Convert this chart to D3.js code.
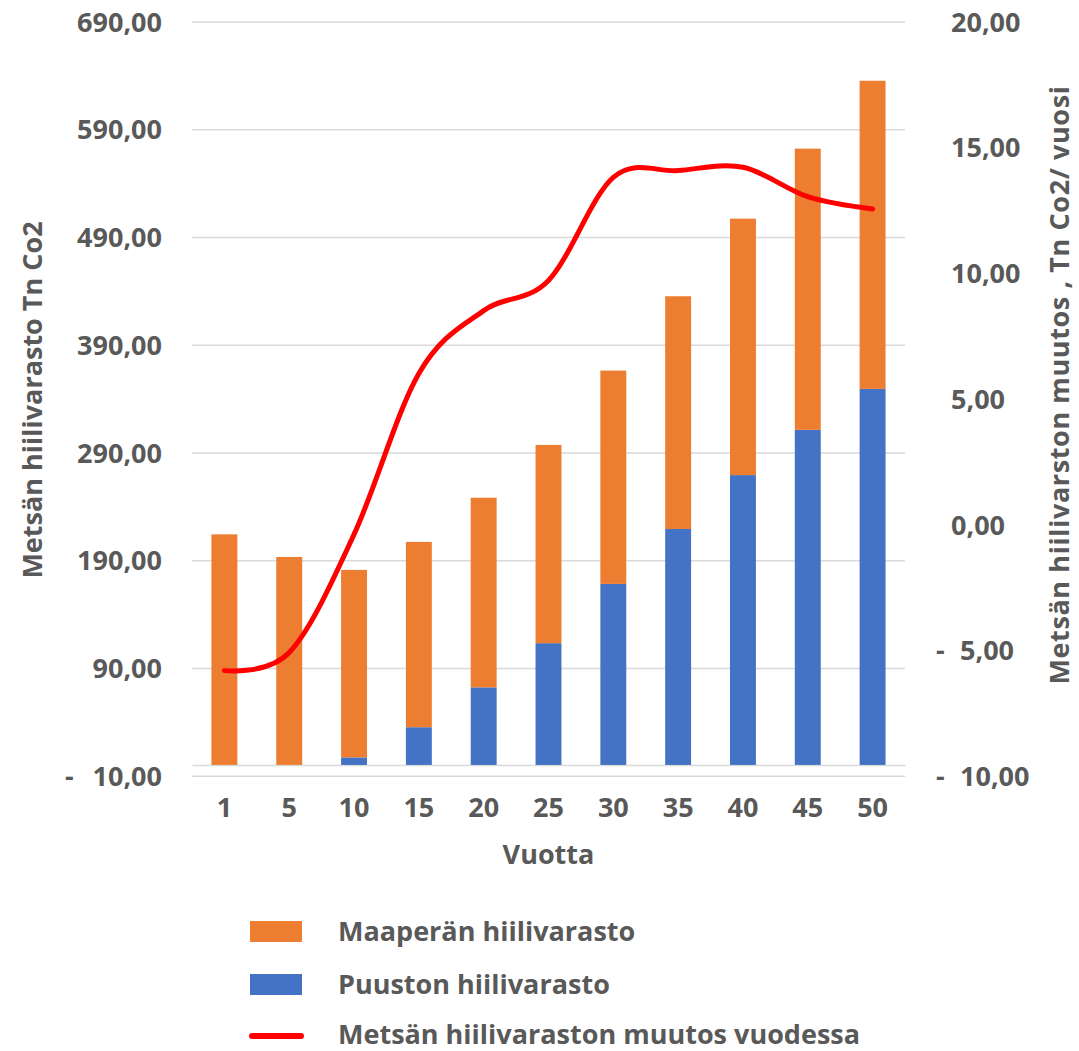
<!DOCTYPE html>
<html><head><meta charset="utf-8">
<script src="https://cdn.jsdelivr.net/npm/d3@7"></script>
<style>
body{margin:0;background:#fff;}
text{font-family:"Open Sans", Lato, sans-serif;font-weight:700;fill:#595959;}
</style></head><body>
<svg id="c" width="1079" height="1051"></svg>
<script>
const categories = ["1","5","10","15","20","25","30","35","40","45","50"];
const puusto = [0,0,7,35,72,113,168,219,269,311,349];
const maapera = [214,193,174,172,176,184,198,216,238,261,286];
const muutos = [-5.82,-5.1,-0.4,6.0,8.5,9.7,13.8,14.07,14.2,13.03,12.54];
const leftTicks = [-10,90,190,290,390,490,590,690];
const rightTicks = [-10,-5,0,5,10,15,20];
const seriesNames = ["Maaperän hiilivarasto","Puuston hiilivarasto","Metsän hiilivaraston muutos vuodessa"];
const xTitle = "Vuotta";
const yLeftTitle = "Metsän hiilivarasto Tn Co2";
const yRightTitle = "Metsän hiilivarston muutos , Tn Co2/ vuosi";

const C = {orange:"#ED7D31", blue:"#4472C4", red:"#FF0000", grid:"#D9D9D9"};
const FS = 27;
const L = 192, R = 905, T = 21.5, B = 775.7;

const svg = d3.select("#c");
const loc = d3.formatLocale({decimal:",", thousands:" ", grouping:[3], currency:["",""]});
const fmt = loc.format(",.2f");

const x = d3.scaleBand().domain(categories).range([L,R]).paddingInner(0.6).paddingOuter(0.3);
const yL = d3.scaleLinear().domain([-10,690]).range([B,T]);
const yR = d3.scaleLinear().domain([-10,20]).range([B,T]);

// gridlines
const grid = svg.append("g").attr("transform",`translate(${L},0)`)
  .call(d3.axisLeft(yL).tickValues(leftTicks).tickSize(-(R-L)).tickFormat(""));
grid.select(".domain").remove();
grid.selectAll("line").attr("stroke",C.grid).attr("stroke-width",1.5);

// zero line (category axis)
const xa = svg.append("g").attr("transform",`translate(0,${yL(0)})`)
  .call(d3.axisBottom(x).tickSize(0).tickPadding(0));
xa.select(".domain").attr("stroke",C.grid).attr("stroke-width",1.5);
xa.selectAll("text").attr("y", 817 - yL(0)).attr("dy",0).style("font-size",FS+"px").attr("fill","#595959");

// bars
const rows = categories.map((c,i)=>({cat:c, puusto:puusto[i], maapera:maapera[i]}));
const stack = d3.stack().keys(["puusto","maapera"])(rows);
const colors = {puusto:C.blue, maapera:C.orange};
svg.append("g").selectAll("g").data(stack).join("g")
  .attr("fill",d=>colors[d.key])
  .selectAll("rect").data(d=>d).join("rect")
  .attr("x",d=>x(d.data.cat)).attr("width",x.bandwidth())
  .attr("y",d=>yL(d[1])).attr("height",d=>Math.max(0,yL(d[0])-yL(d[1])));

// line
const line = d3.line().x((d,i)=>x(categories[i])+x.bandwidth()/2).y(d=>yR(d)).curve(d3.curveCardinal.tension(0));
svg.append("path").datum(muutos).attr("d",line).attr("fill","none")
  .attr("stroke",C.red).attr("stroke-width",5).attr("stroke-linecap","round").attr("stroke-linejoin","round");

// left axis labels
const la = svg.append("g").attr("transform",`translate(${L},0)`)
  .call(d3.axisLeft(yL).tickValues(leftTicks).tickSize(0).tickPadding(30).tickFormat(d=>fmt(Math.abs(d))));
la.select(".domain").remove();
la.selectAll("text").style("font-size",FS+"px").attr("fill","#595959").attr("dy","0.36em");
la.selectAll(".tick").filter(d=>d<0).append("text")
  .attr("x",65-L).attr("dy","0.36em").attr("text-anchor","start").style("font-size",FS+"px").attr("fill","#595959").text("-");

// right axis labels
const ra = svg.append("g").attr("transform",`translate(${R},0)`)
  .call(d3.axisRight(yR).tickValues(rightTicks).tickSize(0).tickPadding(46).tickFormat(d=>fmt(Math.abs(d))));
ra.select(".domain").remove();
ra.selectAll("text").style("font-size",FS+"px").attr("fill","#595959").attr("dy","0.36em");
ra.selectAll(".tick").filter(d=>d<0).select("text").attr("x",960-R);
ra.selectAll(".tick").filter(d=>d<0).append("text")
  .attr("x",936-R).attr("dy","0.36em").attr("text-anchor","start").style("font-size",FS+"px").attr("fill","#595959").text("-");

// axis titles
svg.append("text").attr("x",(L+R)/2).attr("y",864).attr("text-anchor","middle").style("font-size",FS+"px").text(xTitle);
svg.append("text").attr("transform",`translate(42,${400}) rotate(-90)`).attr("text-anchor","middle").style("font-size",FS+"px").text(yLeftTitle);
svg.append("text").attr("transform",`translate(1069,${385}) rotate(-90)`).attr("text-anchor","middle").style("font-size",FS+"px").style("letter-spacing","0.6px").text(yRightTitle);

// legend
const legY = [931,984,1034];
const lg = svg.append("g");
[ {type:"rect",color:C.orange}, {type:"rect",color:C.blue}, {type:"line",color:C.red} ].forEach((s,i)=>{
  if(s.type==="rect") lg.append("rect").attr("x",250).attr("y",legY[i]-10).attr("width",52).attr("height",21).attr("fill",s.color);
  else lg.append("line").attr("x1",252).attr("x2",301).attr("y1",legY[i]+2).attr("y2",legY[i]+2).attr("stroke",s.color).attr("stroke-width",6).attr("stroke-linecap","round");
  lg.append("text").attr("x",338).attr("y",legY[i]).attr("dy","0.36em").style("font-size",FS+"px").text(seriesNames[i]);
});
</script>
</body></html>
